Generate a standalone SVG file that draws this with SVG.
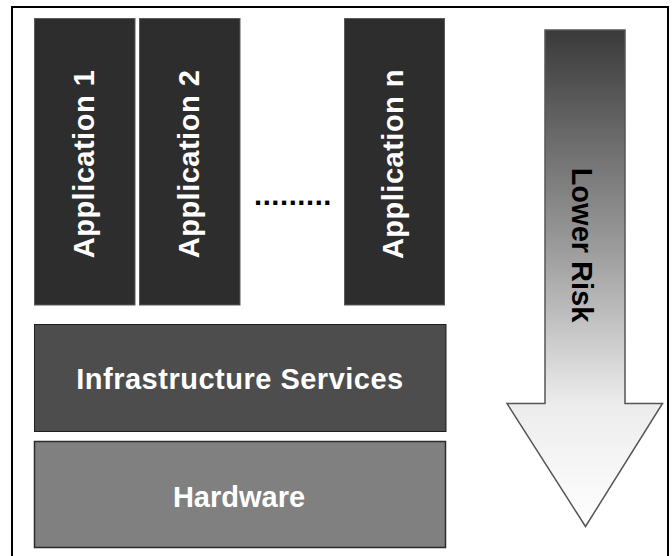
<svg xmlns="http://www.w3.org/2000/svg" width="672" height="556" viewBox="0 0 672 556">
  <defs>
    <linearGradient id="riskFill" gradientUnits="userSpaceOnUse" x1="0" y1="30" x2="0" y2="527">
      <stop offset="0" stop-color="#3a3a3a"/>
      <stop offset="0.45" stop-color="#9e9e9e"/>
      <stop offset="0.75" stop-color="#ececec"/>
      <stop offset="1" stop-color="#ffffff"/>
    </linearGradient>
    <style>
      .label { font-family: "Liberation Sans", Arial, sans-serif; font-weight: bold; font-size: 29px; text-anchor: middle; }
      .wide { letter-spacing: 0.5px; }
      .app rect { fill: #2d2d2d; stroke: #5a5a5a; stroke-width: 1; }
      .app text { fill: #ffffff; }
    </style>
  </defs>

  <!-- frame -->
  <rect x="12" y="7" width="656" height="556" fill="#ffffff" stroke="#000000" stroke-width="2"/>

  <!-- application columns -->
  <g id="app1" class="app">
    <rect x="34.5" y="18.5" width="100.5" height="286.5"/>
    <text class="label wide" transform="translate(93.5,164) rotate(-90)">Application 1</text>
  </g>
  <g id="app2" class="app">
    <rect x="139.5" y="18.5" width="100.5" height="286.5"/>
    <text class="label wide" transform="translate(198.5,164) rotate(-90)">Application 2</text>
  </g>
  <g id="ellipsis">
    <text x="293" y="205" class="label" fill="#000000" style="letter-spacing:0.6px">.........</text>
  </g>
  <g id="appn" class="app">
    <rect x="344.5" y="18.5" width="100" height="286.5"/>
    <text class="label wide" transform="translate(403,164) rotate(-90)">Application n</text>
  </g>

  <!-- platform layers -->
  <g id="infrastructure">
    <rect x="34.5" y="324.5" width="411.5" height="107" fill="#4d4d4d" stroke="#1e1e1e" stroke-width="1"/>
    <text x="240" y="389" class="label wide" fill="#ffffff">Infrastructure Services</text>
  </g>
  <g id="hardware">
    <rect x="34.5" y="441.5" width="411" height="106" fill="#808080" stroke="#2a2a2a" stroke-width="1.5"/>
    <text x="239" y="506.5" class="label" fill="#ffffff">Hardware</text>
  </g>

  <!-- risk arrow -->
  <g id="risk-arrow">
    <path d="M545,30 L625,30 L625,403.5 L662.5,403.5 L585.5,526.5 L507,403.5 L545,403.5 Z" fill="url(#riskFill)" stroke="#555555" stroke-width="1.5" stroke-linejoin="miter"/>
    <text class="label" fill="#000000" transform="translate(571.5,245) rotate(90)">Lower Risk</text>
  </g>

  <g id="connectors"/>
</svg>
